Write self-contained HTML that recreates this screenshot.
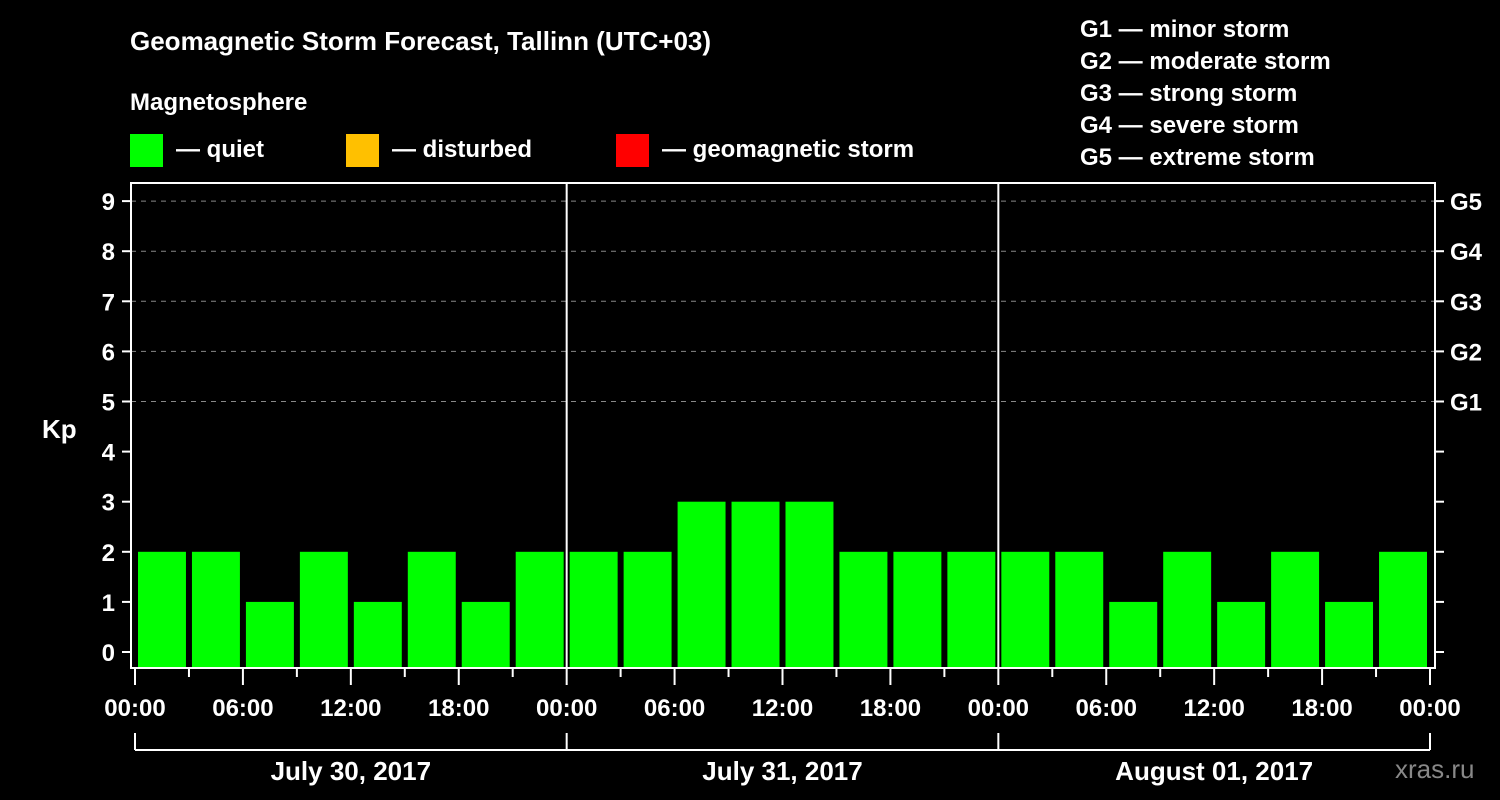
<!DOCTYPE html>
<html><head><meta charset="utf-8"><style>
body{margin:0;background:#000;}
svg{display:block;font-family:"Liberation Sans",Arial,sans-serif;font-weight:bold;}
</style></head><body>
<svg id="c" width="1500" height="800" viewBox="0 0 1500 800">
<rect width="1500" height="800" fill="#000"/>
<text x="130" y="50" fill="#fff" font-size="26">Geomagnetic Storm Forecast, Tallinn (UTC+03)</text>
<text x="130" y="110" fill="#fff" font-size="24">Magnetosphere</text>
<g><rect x="130" y="134" width="33" height="33" fill="#00ff00"/><text x="176" y="157" fill="#fff" font-size="24">— quiet</text></g>
<g><rect x="346" y="134" width="33" height="33" fill="#ffc000"/><text x="392" y="157" fill="#fff" font-size="24">— disturbed</text></g>
<g><rect x="616" y="134" width="33" height="33" fill="#ff0000"/><text x="662" y="157" fill="#fff" font-size="24">— geomagnetic storm</text></g>
<g fill="#fff" font-size="24">
<text x="1080" y="37">G1 — minor storm</text>
<text x="1080" y="69">G2 — moderate storm</text>
<text x="1080" y="101">G3 — strong storm</text>
<text x="1080" y="133">G4 — severe storm</text>
<text x="1080" y="165">G5 — extreme storm</text>
</g>
<text x="42" y="438" fill="#fff" font-size="26">Kp</text>
<text x="1395" y="778" fill="#888" font-size="26" font-weight="normal">xras.ru</text>
<g id="grid"></g><g id="bars"></g><g id="axes"></g>
</svg>
<script>
const kpValues=[2,2,1,2,1,2,1,2, 2,2,3,3,3,2,2,2, 2,2,1,2,1,2,1,2];
const dayLabels=["July 30, 2017","July 31, 2017","August 01, 2017"];
const timeLabels=["00:00","06:00","12:00","18:00"];
const gLabels=["G1","G2","G3","G4","G5"];
const NS="http://www.w3.org/2000/svg";
const L=131,R=1435,T=183,B=668,X0=135,X1=1430;
const hours=72;
const xs=h=>X0+(X1-X0)*h/hours;
const ys=v=>652-50.1*v;
function mk(p,tag,a){const e=document.createElementNS(NS,tag);for(const k in a)e.setAttribute(k,a[k]);p.appendChild(e);return e;}
const grid=document.getElementById('grid'),bars=document.getElementById('bars'),axes=document.getElementById('axes');
for(let v=5;v<=9;v++){const l=mk(grid,'line',{x1:L,x2:R,y1:ys(v),y2:ys(v),stroke:'#888','stroke-width':1,'stroke-dasharray':'5,5'});

}
kpValues.forEach((v,i)=>{const x=xs(i*3)+3,w=xs(i*3+3)-xs(i*3)-6;
const c=v>=5?'#ff0000':(v>=4?'#ffc000':'#00ff00');
const r=mk(bars,'rect',{x:x,y:ys(v),width:w,height:B-ys(v),fill:c});

});
mk(axes,'rect',{x:L,y:T,width:R-L,height:B-T,fill:'none',stroke:'#fff','stroke-width':2});
for(let d=1;d<3;d++){const x=xs(d*24);mk(axes,'line',{x1:x,x2:x,y1:T,y2:B,stroke:'#fff','stroke-width':2});}
for(let v=0;v<=9;v++){const y=ys(v);mk(axes,'line',{x1:122,x2:L,y1:y,y2:y,stroke:'#fff','stroke-width':2});
mk(axes,'line',{x1:R,x2:R+9,y1:y,y2:y,stroke:'#fff','stroke-width':2});
const t=mk(axes,'text',{x:115,y:y+9,fill:'#fff','font-size':24,'text-anchor':'end'});t.textContent=v;

}
gLabels.forEach((g,i)=>{const t=mk(axes,'text',{x:1450,y:ys(i+5)+9,fill:'#fff','font-size':24});t.textContent=g;

});
for(let h=0;h<=hours;h+=3){const x=xs(h);const major=h%6===0;
mk(axes,'line',{x1:x,x2:x,y1:B,y2:major?685:677,stroke:'#fff','stroke-width':2});
if(major){const t=mk(axes,'text',{x:x,y:716,fill:'#fff','font-size':24,'text-anchor':'middle'});t.textContent=timeLabels[(h/6)%4];

}}
mk(axes,'line',{x1:X0,x2:X1,y1:750,y2:750,stroke:'#fff','stroke-width':2});
for(let d=0;d<=3;d++){const x=xs(d*24);mk(axes,'line',{x1:x,x2:x,y1:733,y2:750,stroke:'#fff','stroke-width':2});}
dayLabels.forEach((s,d)=>{const t=mk(axes,'text',{x:xs(d*24+12),y:780,fill:'#fff','font-size':26,'text-anchor':'middle'});t.textContent=s;

});
</script>
</body></html>
